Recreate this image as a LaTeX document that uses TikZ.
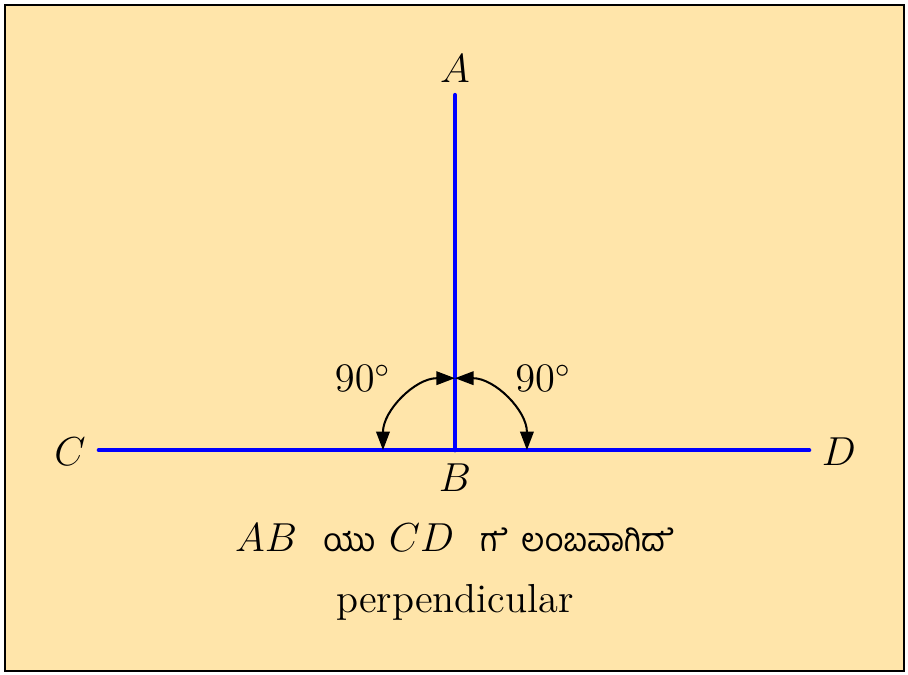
\documentclass[tikz,border=0pt]{standalone}
\usepackage{fontspec}
\newfontfamily\kannada[Script=Kannada,Scale=0.8]{Hind Mysuru}
\newfontfamily\kannadae[Script=Kannada,Scale=0.8,RawFeature={-blws;-pres}]{Hind Mysuru}
\usetikzlibrary{positioning, arrows.meta, calc}
\usepackage{xcolor}
\definecolor{bgcream}{HTML}{FFE5AA}
\definecolor{lineblue}{HTML}{0000FF}

\tikzset{
  segline/.style={draw=lineblue, line width=1.3pt, line cap=round},
  anglearc/.style={semithick, {Triangle[length=5.5pt,width=4pt]}-{Triangle[length=5.5pt,width=4pt]}}
}

\begin{document}
\begin{tikzpicture}[font=\large]
    \useasboundingbox (-4.74,-2.34) rectangle (4.72,4.69);
    \draw[fill=bgcream, line width=0.6pt] (-4.69,-2.30) rectangle (4.68,4.64);

    \coordinate (B) at (0,0);
    \coordinate (A) at (0,3.70);
    \coordinate (C) at (-3.71,0);
    \coordinate (D) at (3.69,0);

    \draw[segline] (C) -- (D);
    \draw[segline] (B) -- (A);

    % angle marks
    \draw[anglearc] ($(B)+(90:0.75)$) arc[start angle=90, end angle=180, radius=0.75];
    \draw[anglearc] ($(B)+(0:0.75)$) arc[start angle=0, end angle=90, radius=0.75];

    \node (lA) at (0,3.97) {$A$};
    \node (lB) at (0,-0.29) {$B$};
    \node (lC) at (-4.01,-0.02) {$C$};
    \node (lD) at (4.00,-0.02) {$D$};
    \node (angL) at (-0.96,0.75) {$90^\circ$};
    \node (angR) at (0.92,0.75) {$90^\circ$};

    \node[anchor=base] (txt) at (0,-1.06)
      {$AB$\ \ {\kannada ಯು} $CD$\ \ {\kannadae ಗೆ} {\kannada ಲಂಬವಾಗಿ}{\kannadae ದೆ}};
    \node[anchor=base] (eng) at (0,-1.69) {perpendicular};
\end{tikzpicture}
\end{document}
